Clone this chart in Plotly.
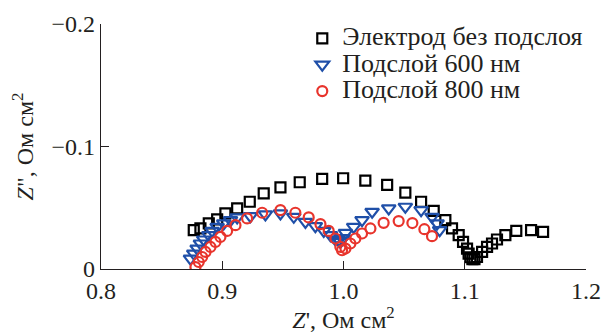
import plotly.graph_objects as go

# ---- data (Z' , Z'' in Ohm cm^2) ----
sq_x = [0.8765, 0.882, 0.8889, 0.8958, 0.9026, 0.9123, 0.9227, 0.9342, 0.948, 0.9639,
        0.9824, 0.9997, 1.018, 1.036, 1.051, 1.064, 1.0744, 1.084, 1.0895, 1.095,
        1.0986, 1.1019, 1.1032, 1.1046, 1.1063, 1.108, 1.1101, 1.1143, 1.1184, 1.1225,
        1.1266, 1.1335, 1.1425, 1.1547, 1.1646]
sq_y = [-0.0317, -0.0331, -0.0372, -0.0405, -0.0454, -0.0495, -0.0549, -0.0618, -0.0667, -0.0708,
        -0.0735, -0.0741, -0.0721, -0.0686, -0.0623, -0.0549, -0.0475, -0.0399, -0.0331, -0.0276,
        -0.0221, -0.0167, -0.0126, -0.0096, -0.008, -0.008, -0.0098, -0.0139, -0.018, -0.0208,
        -0.0241, -0.0276, -0.0311, -0.0317, -0.0303]

tri_x = [0.8738, 0.8765, 0.8793, 0.882, 0.8847, 0.8889, 0.8917, 0.8958, 0.9012, 0.9068,
         0.9123, 0.9232, 0.9356, 0.948, 0.959, 0.9686, 0.9768, 0.9837, 0.9892, 0.9933,
         0.996, 0.9974, 0.9999, 1.0016, 1.0084, 1.0153, 1.0236, 1.0373, 1.051, 1.064,
         1.073, 1.0772, 1.0793]
tri_y = [-0.0085, -0.0126, -0.0167, -0.0208, -0.0241, -0.0276, -0.0311, -0.0344, -0.0372, -0.0399,
         -0.0421, -0.0432, -0.0446, -0.0454, -0.0426, -0.0385, -0.035, -0.0311, -0.0276, -0.0241,
         -0.0235, -0.0221, -0.0252, -0.0295, -0.0344, -0.0399, -0.0467, -0.0495, -0.0508, -0.0481,
         -0.0426, -0.0372, -0.0317]

cir_x = [0.8779, 0.8806, 0.8834, 0.8862, 0.8903, 0.8944, 0.8985, 0.904, 0.9109, 0.9205,
         0.9329, 0.948, 0.9603, 0.9713, 0.981, 0.9878, 0.9933, 0.9974, 0.9988, 1.0016,
         1.0057, 1.0098, 1.0153, 1.0222, 1.0331, 1.0455, 1.0568, 1.0667, 1.073]
cir_y = [-0.0016, -0.0057, -0.0098, -0.0139, -0.018, -0.0221, -0.0262, -0.0311, -0.0358, -0.0413,
         -0.0459, -0.0481, -0.0459, -0.0421, -0.0366, -0.0311, -0.0249, -0.018, -0.0153, -0.0167,
         -0.0208, -0.0249, -0.029, -0.0331, -0.0377, -0.0391, -0.0375, -0.0325, -0.0268]

series_names = ["Электрод без подслоя", "Подслой 600 нм", "Подслой 800 нм"]

x_tickvals = [0.8, 0.9, 1.0, 1.1, 1.2]
x_ticktext = ["0.8", "0.9", "1.0", "1.1", "1.2"]
y_tickvals = [0, -0.1, -0.2]
y_ticktext = ["0", "\u22120.1", "\u22120.2"]

FONT = "Liberation Serif"
INK = "#231f20"


def big(s):
    # larger glyphs than the legend's nominal size, so rows stay tight
    return '<span style="font-size:26px">' + s + '</span>'


fig = go.Figure()
fig.add_trace(go.Scatter(x=sq_x, y=sq_y, mode="markers", name=big(series_names[0]),
                         marker=dict(symbol="square-open", size=10, color="#000000",
                                     line=dict(width=2.2, color="#000000"))))
fig.add_trace(go.Scatter(x=tri_x, y=tri_y, mode="markers", name=big(series_names[1]),
                         marker=dict(symbol="triangle-down-open", size=12, color="#1f4fa8",
                                     line=dict(width=2.2, color="#1f4fa8"))))
fig.add_trace(go.Scatter(x=cir_x, y=cir_y, mode="markers", name=big(series_names[2]),
                         marker=dict(symbol="circle-open", size=10, color="#e8342c",
                                     line=dict(width=2.2, color="#e8342c"))))

tf = dict(family=FONT, size=24, color=INK)
fig.update_layout(
    template="none",
    width=601, height=325,
    margin=dict(l=92.5, r=23.3, t=16.3, b=64.3, autoexpand=False),
    paper_bgcolor="white", plot_bgcolor="white",
    font=dict(family=FONT, size=24, color=INK),
    showlegend=True,
    legend=dict(x=0.415, y=1.016, xanchor="left", yanchor="top",
                bgcolor="rgba(0,0,0,0)", font=dict(family=FONT, size=18, color=INK),
                itemwidth=30, tracegroupgap=0),
    xaxis=dict(range=[0.8, 1.2], tickvals=x_tickvals, ticktext=x_ticktext, automargin=False,
               tickfont=tf,
               showgrid=False, zeroline=False, showline=True, linecolor=INK, linewidth=1.3,
               ticks="inside", ticklen=8, tickwidth=1.3, tickcolor=INK,
               title=dict(text="<i>Z</i>', Ом см<sup>2</sup>", font=tf, standoff=1)),
    yaxis=dict(range=[0, -0.2], tickvals=y_tickvals, ticktext=y_ticktext, automargin=False,
               tickfont=tf,
               showgrid=False, zeroline=False, showline=True, linecolor=INK, linewidth=1.3,
               ticks="inside", ticklen=8, tickwidth=1.3, tickcolor=INK,
               title=dict(text="<i>Z</i>\", Ом см<sup>2</sup>", font=tf, standoff=12)),
)

fig.write_html("out.html")
